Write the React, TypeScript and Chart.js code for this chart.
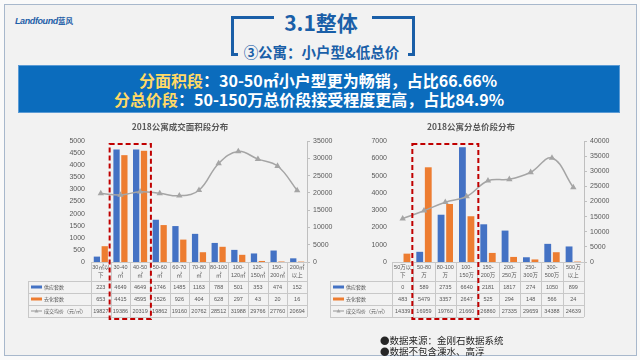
import React, { useEffect, useRef } from "react";
import { Chart, registerables } from "chart.js";

Chart.register(...registerables);

const FONT = '"Liberation Sans", "Noto Sans CJK SC", sans-serif';
const CJK = '"Noto Sans CJK SC", "Liberation Sans", sans-serif';

// ---- 面积段 data ----
const areaCategories = [
  ["30㎡以", "下"], ["30-40", "㎡"], ["40-50", "㎡"], ["50-60", "㎡"], ["60-70", "㎡"],
  ["70-80", "㎡"], ["80-100", "㎡"], ["100-", "120㎡"], ["120-", "150㎡"], ["150-", "200㎡"], ["200㎡", "以上"],
];
const areaSupply = [223, 4649, 4649, 1746, 1485, 1163, 788, 501, 353, 474, 152];
const areaSold = [653, 4415, 4595, 1526, 926, 404, 628, 297, 43, 20, 16];
const areaPrice = [19827, 19386, 20319, 19862, 19160, 20762, 28512, 31988, 29766, 27760, 20694];
const areaHighlight = [1, 2];

// ---- 总价段 data ----
const priceCategories = [
  ["50万以", "下"], ["50-80", "万"], ["80-100", "万"], ["100-", "150万"], ["150-", "200万"],
  ["200-", "250万"], ["250-", "300万"], ["300-", "500万"], ["500万", "以上"],
];
const priceSupply = [0, 589, 2735, 6640, 2181, 1817, 274, 1050, 899];
const priceSold = [483, 5479, 3357, 2647, 525, 294, 148, 566, 24];
const priceAvg = [14339, 16959, 19760, 21660, 26860, 27335, 29659, 34388, 24639];
const priceHighlight = [1, 3];

const seriesNames = ["供应套数", "去化套数", "成交均价（元/㎡）"];

const BLUE = "#4472c4";
const ORANGE = "#ed7d31";
const GRAY = "#a5a5a5";
const TXT = "#595959";

const tablePlugin = {
  id: "dataTable",
  afterDraw(chart: any, _args: any, opts: any) {
    const { ctx, chartArea } = chart;
    const labels = chart.data.labels as string[][];
    const n = labels.length;
    const L = chartArea.left, R = chartArea.right, T = chartArea.bottom;
    const cw = (R - L) / n;
    const headerH = 19, rowH = 12;
    const ds = chart.data.datasets;
    const B = T + headerH + rowH * ds.length;
    const legL = opts.legendLeft;
    ctx.save();
    ctx.strokeStyle = "#c8c8c8";
    ctx.lineWidth = 1;
    ctx.beginPath();
    ctx.moveTo(L, Math.round(T) + 0.5);
    ctx.lineTo(R, Math.round(T) + 0.5);
    for (let i = 0; i <= n; i++) {
      const x = Math.round(L + i * cw) + 0.5;
      ctx.moveTo(x, T);
      ctx.lineTo(x, B);
    }
    ctx.moveTo(legL + 0.5, T + headerH);
    ctx.lineTo(legL + 0.5, B);
    for (let r = 0; r <= ds.length; r++) {
      const y = Math.round(T + headerH + r * rowH) + 0.5;
      ctx.moveTo(legL, y);
      ctx.lineTo(R, y);
    }
    ctx.stroke();

    ctx.fillStyle = TXT;
    ctx.textAlign = "center";
    ctx.textBaseline = "middle";
    ctx.font = `5.5px ${FONT}`;
    labels.forEach((lab, i) => {
      const cx = L + (i + 0.5) * cw;
      lab.forEach((line, j) => ctx.fillText(line, cx, T + 5.5 + j * 7.5));
    });
    ds.forEach((d: any, r: number) => {
      const cy = T + headerH + (r + 0.5) * rowH;
      ctx.fillStyle = TXT;
      ctx.textAlign = "center";
      ctx.font = `5.5px ${FONT}`;
      d.data.forEach((v: number, i: number) => ctx.fillText(String(v), L + (i + 0.5) * cw, cy));
      // legend key
      if (d.type === "line") {
        ctx.strokeStyle = GRAY;
        ctx.lineWidth = 1.2;
        ctx.beginPath();
        ctx.moveTo(legL + 3, cy);
        ctx.lineTo(legL + 14, cy);
        ctx.stroke();
        ctx.fillStyle = GRAY;
        ctx.beginPath();
        ctx.moveTo(legL + 8.5, cy - 2);
        ctx.lineTo(legL + 10.5, cy + 1.5);
        ctx.lineTo(legL + 6.5, cy + 1.5);
        ctx.closePath();
        ctx.fill();
      } else {
        ctx.fillStyle = d.backgroundColor;
        ctx.fillRect(legL + 3, cy - 1.5, 11, 3);
      }
      ctx.fillStyle = TXT;
      ctx.textAlign = "left";
      ctx.font = `5px ${CJK}`;
      ctx.fillText(d.label, legL + 16, cy);
    });

    // highlight dashed box
    const [s, e] = opts.highlight;
    ctx.strokeStyle = "#c00000";
    ctx.lineWidth = 2;
    ctx.setLineDash([5, 3]);
    ctx.strokeRect(L + s * cw - 1, chartArea.top + 3, (e - s + 1) * cw + 2, B + 2 - (chartArea.top + 3));
    ctx.restore();
  },
};

function makeConfig(p: any): any {
  return {
    type: "bar",
    data: {
      labels: p.labels,
      datasets: [
        { type: "bar", label: seriesNames[0], data: p.supply, backgroundColor: BLUE, yAxisID: "y", order: 2, categoryPercentage: 0.8, barPercentage: 0.8 },
        { type: "bar", label: seriesNames[1], data: p.sold, backgroundColor: ORANGE, yAxisID: "y", order: 2, categoryPercentage: 0.8, barPercentage: 0.8 },
        {
          type: "line", label: seriesNames[2], data: p.price, yAxisID: "y1", order: 0,
          borderColor: GRAY, backgroundColor: GRAY, borderWidth: 1.5, tension: 0.4,
          pointStyle: "triangle", pointRadius: 2.2, pointBackgroundColor: GRAY, pointBorderColor: GRAY,
        },
      ],
    },
    options: {
      responsive: true,
      maintainAspectRatio: false,
      animation: false,
      layout: { padding: 0 },
      plugins: {
        legend: { display: false },
        tooltip: { enabled: false },
        title: {
          display: true, text: p.title, color: TXT,
          font: { family: CJK, size: 8.5, weight: "bold" },
          padding: { top: 4, bottom: 8.8 },
        },
        dataTable: { legendLeft: p.legendLeft, highlight: p.highlight },
      },
      scales: {
        x: {
          display: true,
          grid: { display: false, drawTicks: false },
          border: { display: false },
          ticks: { display: false },
          afterFit: (s: any) => { s.height = 60; },
        },
        y: {
          position: "left", min: 0, max: p.leftMax,
          ticks: { stepSize: p.leftStep, color: TXT, font: { family: FONT, size: 7 }, padding: p.leftPad, callback: (v: any) => String(v) },
          grid: { display: false, drawTicks: false },
          border: { display: false },
          afterFit: (s: any) => { s.width = p.leftW; },
        },
        y1: {
          position: "right", min: 0, max: p.rightMax,
          ticks: { stepSize: p.rightStep, color: TXT, font: { family: FONT, size: 7 }, padding: 3, callback: (v: any) => String(v) },
          grid: { display: true, drawOnChartArea: false, drawTicks: true, tickLength: 3, color: "#bfbfbf" },
          border: { display: true, color: "#bfbfbf" },
          afterFit: (s: any) => { s.width = p.rightW; },
        },
      },
    },
    plugins: [tablePlugin],
  };
}

function ChartBox({ left, width, config }: any) {
  const ref = useRef<HTMLCanvasElement>(null);
  useEffect(() => {
    const c = new Chart(ref.current as HTMLCanvasElement, config);
    return () => c.destroy();
  }, []);
  return (
    <div style={{ position: "absolute", left, top: 118, width, height: 204 }}>
      <canvas ref={ref} />
    </div>
  );
}

const areaConfig = makeConfig({
  labels: areaCategories, supply: areaSupply, sold: areaSold, price: areaPrice,
  leftMax: 5000, leftStep: 500, rightMax: 35000, rightStep: 5000,
  title: "2018公寓成交面积段分布", leftW: 67, rightW: 29, legendLeft: 4, highlight: areaHighlight, leftPad: 6,
});
const priceConfig = makeConfig({
  labels: priceCategories, supply: priceSupply, sold: priceSold, price: priceAvg,
  leftMax: 7000, leftStep: 1000, rightMax: 40000, rightStep: 5000,
  title: "2018公寓分总价段分布", leftW: 66, rightW: 32, legendLeft: 4, highlight: priceHighlight, leftPad: 5,
});

const BRAND = "#1a5fa8";

export default function App() {
  return (
    <div style={{ position: "fixed", left: 0, top: 0, width: 640, height: 360, background: "#fafafa", overflow: "hidden", fontFamily: CJK }}>
      <div style={{ position: "absolute", left: 4, top: 4, width: 631, height: 350, border: "1px solid #a8b8cc", background: "#f2f2f2" }} />
      {/* logo */}
      <div style={{ position: "absolute", left: 15, top: 11, height: 12, lineHeight: "12px", whiteSpace: "nowrap", color: "#1f5fa8" }}>
        <span style={{ fontFamily: FONT, fontStyle: "italic", fontWeight: 700, fontSize: 9, letterSpacing: -0.4 }}>Landfound</span>
        <span style={{ fontFamily: CJK, fontWeight: 700, fontSize: 7.5 }}>蓝风</span>
      </div>
      {/* brackets */}
      <div style={{ position: "absolute", left: 231, top: 16, width: 40, height: 37, borderTop: `3px solid ${BRAND}`, borderLeft: `3px solid ${BRAND}` }} />
      <div style={{ position: "absolute", left: 231, top: 53, width: 7, height: 3, background: BRAND }} />
      <div style={{ position: "absolute", left: 372, top: 16, width: 40, height: 37, borderTop: `3px solid ${BRAND}`, borderRight: `3px solid ${BRAND}` }} />
      <div style={{ position: "absolute", left: 408, top: 53, width: 7, height: 3, background: BRAND }} />
      <div style={{ position: "absolute", left: 0, top: 10, width: 642, textAlign: "center", fontSize: 21, lineHeight: "24px", fontWeight: 700, color: BRAND }}>3.1整体</div>
      <div style={{ position: "absolute", left: 0, top: 43, width: 643, textAlign: "center", fontSize: 14.5, lineHeight: "18px", fontWeight: 700, color: BRAND }}>③公寓：小户型&amp;低总价</div>
      {/* band */}
      <div style={{ position: "absolute", left: 18, top: 65, width: 600, height: 46, background: "#0b6cbd", border: "1px solid #5b9bd5" }} />
      <div style={{ position: "absolute", left: 139, top: 70, height: 20, lineHeight: "20px", fontSize: 16, fontWeight: 700, color: "#ffffff", whiteSpace: "nowrap" }}>
        <span style={{ color: "#ffd966" }}>分面积段</span>：30-50㎡小户型更为畅销，占比66.66%
      </div>
      <div style={{ position: "absolute", left: 114, top: 89, height: 20, lineHeight: "20px", fontSize: 16, fontWeight: 700, color: "#ffffff", whiteSpace: "nowrap" }}>
        <span style={{ color: "#ffd966" }}>分总价段</span>：50-150万总价段接受程度更高，占比84.9%
      </div>
      {/* charts */}
      <ChartBox left={24} width={312} config={areaConfig} />
      <ChartBox left={326} width={290} config={priceConfig} />
      {/* notes */}
      <div style={{ position: "absolute", left: 380, top: 335, fontSize: 9.5, lineHeight: "11px", color: "#262626", whiteSpace: "nowrap" }}>
        <div>●数据来源：金刚石数据系统</div>
        <div>●数据不包含溧水、高淳</div>
      </div>
    </div>
  );
}
